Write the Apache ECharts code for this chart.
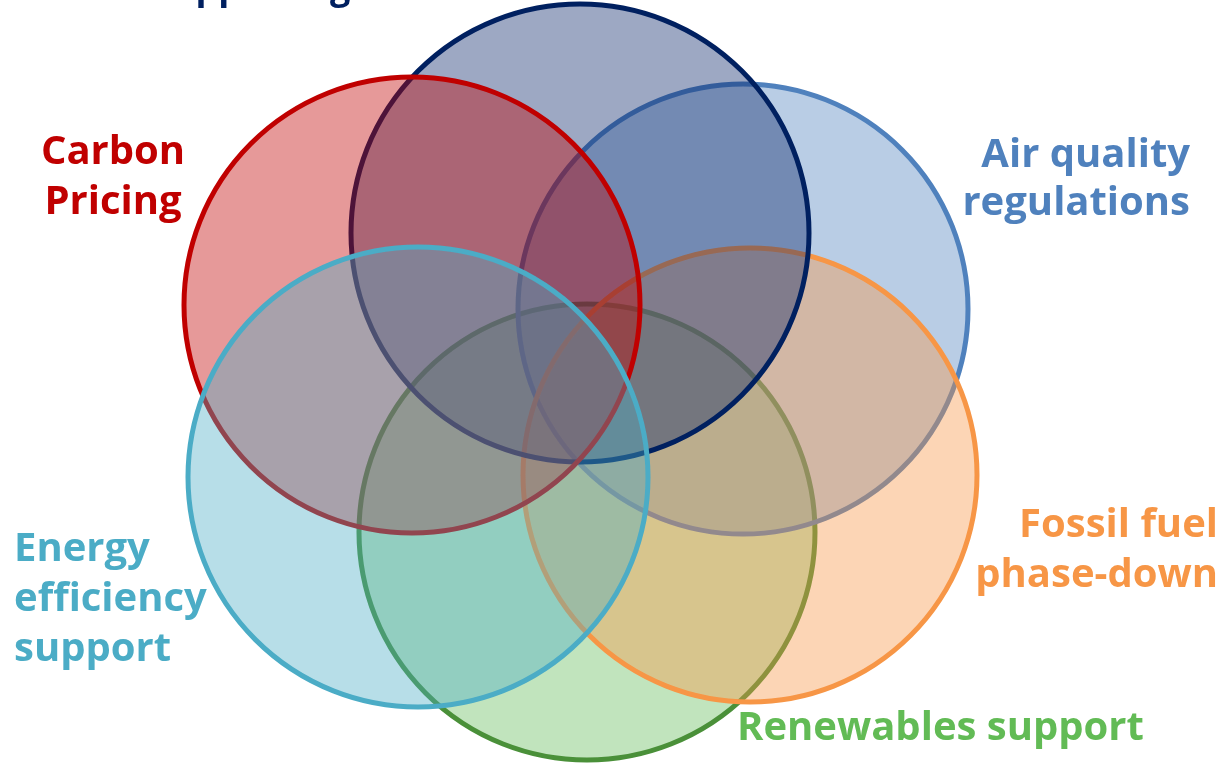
<!DOCTYPE html>
<html>
<head>
<meta charset="utf-8">
<script src="https://cdn.jsdelivr.net/npm/echarts@6/dist/echarts.min.js"></script>
<style>
html,body{margin:0;padding:0;background:#ffffff;}
#chart{width:1226px;height:763px;}
</style>
</head>
<body>
<div id="chart"></div>
<script>
// Circles, listed bottom-to-top in drawing order (data units = pixels of the canvas)
const circleNames = ['Renewables support', 'Air quality regulations', 'Fossil fuel phase-down', 'Supporting innovation', 'Carbon Pricing', 'Energy efficiency support'];
const centerX = [587, 743, 750, 580, 412, 418];
const centerY = [532, 309, 475, 233, 305, 477];
const radius  = [228, 225, 227, 229, 228, 230];

const strokeColors = ['#4A9039', '#4F81BD', '#F79646', '#002060', '#C00000', '#4BACC6'];
const fillColors   = ['rgba(100,187,90,0.4)', 'rgba(79,129,189,0.4)', 'rgba(247,150,70,0.4)', 'rgba(10,37,105,0.4)', 'rgba(192,0,0,0.4)', 'rgba(75,172,198,0.4)'];

const data = circleNames.map((n, i) => ({ name: n, value: [centerX[i], centerY[i], radius[i]] }));

const W = 1226, H = 763;
const chart = echarts.init(document.getElementById('chart'), null, { renderer: 'canvas' });
const font = '"Open Sans", "Noto Sans", sans-serif';

function label(text, x, y, align, color, lh, fs) {
  return {
    type: 'text', x: x, y: y, z: 100,
    style: {
      text: text, fill: color, font: 'bold ' + fs + 'px ' + font,
      fontFamily: font, fontWeight: 'bold', fontSize: fs,
      align: align, verticalAlign: 'middle', lineHeight: lh
    }
  };
}

chart.setOption({
  animation: false,
  grid: { left: 0, right: 0, top: 0, bottom: 0 },
  xAxis: { type: 'value', min: 0, max: W, show: false },
  yAxis: { type: 'value', min: 0, max: H, inverse: true, show: false },
  series: [{
    type: 'custom',
    coordinateSystem: 'cartesian2d',
    data: data,
    renderItem: function (params, api) {
      const c = api.coord([api.value(0), api.value(1)]);
      const r = api.size([api.value(2), 0])[0];
      const i = params.dataIndex;
      return {
        type: 'circle',
        shape: { cx: c[0], cy: c[1], r: r },
        style: { fill: fillColors[i], stroke: strokeColors[i], lineWidth: 5 }
      };
    }
  }],
  graphic: [
    label('Supporting innovation', 152, -11, 'left', '#002060', 40, 36),
    label('Carbon\nPricing', 113, 178, 'center', '#C00000', 50, 40),
    label('Air quality\nregulations', 1190, 180, 'right', '#4F81BD', 48, 40),
    label('Energy\nefficiency\nsupport', 14, 600, 'left', '#4BACC6', 50, 40),
    label('Fossil fuel\nphase-down', 1218, 551, 'right', '#F79646', 50, 40),
    label('Renewables support', 737, 729, 'left', '#62BB55', 44, 40)
  ]
});
</script>
</body>
</html>
